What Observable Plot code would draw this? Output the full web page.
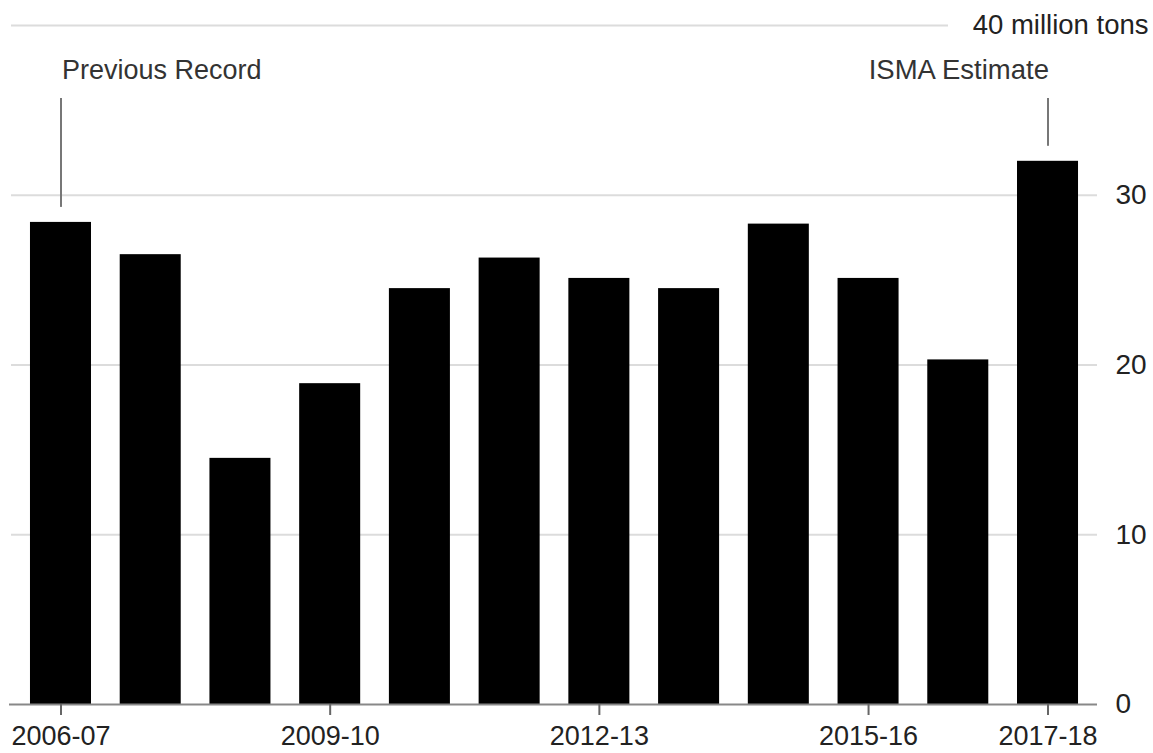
<!DOCTYPE html>
<html>
<head>
<meta charset="utf-8">
<script src="https://cdn.jsdelivr.net/npm/d3@7"></script>
<script src="https://cdn.jsdelivr.net/npm/@observablehq/plot@0.6"></script>
<style>
html, body { margin: 0; padding: 0; background: #fff; }
#chart { width: 1153px; height: 753px; overflow: hidden; }
</style>
</head>
<body>
<div id="chart"></div>
<script>
// Data (million tons of sugar, India)
const seasons = ["2006-07","2007-08","2008-09","2009-10","2010-11","2011-12","2012-13","2013-14","2014-15","2015-16","2016-17","2017-18"];
const production = [28.4, 26.5, 14.5, 18.9, 24.5, 26.3, 25.1, 24.5, 28.3, 25.1, 20.3, 32.0];
const tickSeasons = ["2006-07","2009-10","2012-13","2015-16","2017-18"];
const yTicks = [0, 10, 20, 30];
const topTick = 40;
const unitLabel = "million tons";
const noteSeasons = ["2006-07", "2017-18"];
const noteLabels = ["Previous Record", "ISMA Estimate"];
const noteTop = 35.7;

const data = seasons.map((s, i) => ({season: s, value: production[i]}));
const notes = noteSeasons.map((s, i) => ({season: s, label: noteLabels[i], value: production[seasons.indexOf(s)]}));

const FONT = "'Liberation Sans', Arial, Helvetica, sans-serif";
const TXT = "#222";

const chart = Plot.plot({
  width: 1153,
  height: 753,
  marginLeft: 11,
  marginRight: 56,
  marginTop: 25,
  marginBottom: 49,
  style: { fontFamily: FONT, background: "#fff", color: TXT, overflow: "visible" },
  x: { domain: seasons, paddingInner: 0.32, paddingOuter: 0.2115, round: false, axis: null },
  y: { domain: [0, topTick], axis: null },
  marks: [
    Plot.ruleY(yTicks.filter(d => d > 0), { stroke: "#dcdcdc", strokeWidth: 2 }),
    Plot.ruleY([topTick], { stroke: "#dcdcdc", strokeWidth: 2, insetRight: 149 }),
    Plot.barY(data, { x: "season", y: "value", fill: "#000" }),
    Plot.ruleY([0], { stroke: "#888", strokeWidth: 2, insetLeft: -2 }),
    Plot.axisX(tickSeasons, { tickSize: 11, tickPadding: 10, fontSize: 27, stroke: "#666", strokeWidth: 2, fill: TXT, label: null }),
    Plot.axisY(yTicks, { anchor: "right", tickSize: 0, tickPadding: 18, textAnchor: "start", fontSize: 28, fill: TXT, label: null }),
    Plot.text([topTick], { y: d => d, text: d => `${d} ${unitLabel}`, frameAnchor: "right", textAnchor: "end", dx: 51, fontSize: 27.5, fill: TXT }),
    Plot.ruleX(notes, { x: "season", y1: () => noteTop, y2: "value", insetBottom: 15, stroke: "#777", strokeWidth: 2 }),
    Plot.text(notes.slice(0, 1), { x: "season", y: () => noteTop, text: "label", textAnchor: "start", lineAnchor: "bottom", dy: -19, dx: 1, fontSize: 27, fill: "#333" }),
    Plot.text(notes.slice(1), { x: "season", y: () => noteTop, text: "label", textAnchor: "end", lineAnchor: "bottom", dy: -19, dx: 1, fontSize: 27.5, fill: "#333" })
  ]
});
document.getElementById("chart").appendChild(chart);
</script>
</body>
</html>
